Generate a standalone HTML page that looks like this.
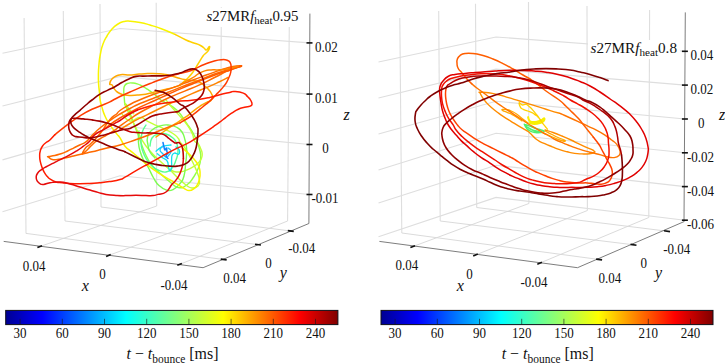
<!DOCTYPE html>
<html><head><meta charset="utf-8"><title>s27MR trajectories</title>
<style>html,body{margin:0;padding:0;background:#fff}svg{display:block}</style></head>
<body>
<svg width="725" height="363" viewBox="0 0 725 363" font-family="'Liberation Serif','DejaVu Serif',serif" fill="#111">
<defs><linearGradient id="jet" x1="0" x2="1" y1="0" y2="0"><stop offset="0" stop-color="#000092"/><stop offset="0.11" stop-color="#0000ff"/><stop offset="0.3618" stop-color="#00ffff"/><stop offset="0.508" stop-color="#80ff80"/><stop offset="0.655" stop-color="#ffff00"/><stop offset="0.885" stop-color="#ff0000"/><stop offset="1" stop-color="#800000"/></linearGradient></defs>
<rect width="725" height="363" fill="#fff"/>
<line x1="24.1" y1="18" x2="26" y2="233.4" stroke="#dedede" stroke-width="1.1" />
<line x1="63.3" y1="11" x2="65" y2="221" stroke="#dedede" stroke-width="1.1" />
<line x1="100" y1="4" x2="101" y2="207" stroke="#dedede" stroke-width="1.1" />
<line x1="156.2" y1="2.8" x2="156.7" y2="206" stroke="#dedede" stroke-width="1.1" />
<line x1="221.3" y1="7.3" x2="220.5" y2="214" stroke="#dedede" stroke-width="1.1" />
<line x1="289.4" y1="12.1" x2="287.6" y2="221" stroke="#dedede" stroke-width="1.1" />
<polyline points="2.5,53.3 120,28.5 309.5,42.9" fill="none" stroke="#dedede" stroke-width="1.1"/>
<polyline points="2.5,106 120,76.4 309.5,94.1" fill="none" stroke="#dedede" stroke-width="1.1"/>
<polyline points="2.5,159.9 120,126 309.5,144.5" fill="none" stroke="#dedede" stroke-width="1.1"/>
<polyline points="2.5,211.8 120,175.7 309.5,194.5" fill="none" stroke="#dedede" stroke-width="1.1"/>
<line x1="39.7" y1="246.6" x2="156.7" y2="206" stroke="#d6d6d6" stroke-width="0.9" />
<line x1="108.4" y1="255.5" x2="220.5" y2="214" stroke="#d6d6d6" stroke-width="0.9" />
<line x1="179.6" y1="264.4" x2="287.6" y2="221" stroke="#d6d6d6" stroke-width="0.9" />
<line x1="26" y1="233.4" x2="223.7" y2="259.5" stroke="#d6d6d6" stroke-width="0.9" />
<line x1="65" y1="221" x2="258" y2="244.6" stroke="#d6d6d6" stroke-width="0.9" />
<line x1="101" y1="207" x2="290.8" y2="231" stroke="#d6d6d6" stroke-width="0.9" />
<line x1="399.8" y1="18" x2="401.8" y2="233" stroke="#dedede" stroke-width="1.1" />
<line x1="438.7" y1="11" x2="440.2" y2="221" stroke="#dedede" stroke-width="1.1" />
<line x1="475.5" y1="3.7" x2="476.7" y2="207.5" stroke="#dedede" stroke-width="1.1" />
<line x1="528.5" y1="2.1" x2="528.9" y2="203.5" stroke="#dedede" stroke-width="1.1" />
<line x1="587" y1="6" x2="587.4" y2="210.5" stroke="#dedede" stroke-width="1.1" />
<line x1="649.6" y1="10" x2="648.8" y2="217.5" stroke="#dedede" stroke-width="1.1" />
<polyline points="378.5,62 496,37 685,51.3" fill="none" stroke="#dedede" stroke-width="1.1"/>
<polyline points="378.5,98 496,69.1 685,85.1" fill="none" stroke="#dedede" stroke-width="1.1"/>
<polyline points="378.5,134 496,101.2 685,119" fill="none" stroke="#dedede" stroke-width="1.1"/>
<polyline points="378.5,170 496,133.2 685,152.8" fill="none" stroke="#dedede" stroke-width="1.1"/>
<polyline points="378.5,203 496,165.3 685,186.6" fill="none" stroke="#dedede" stroke-width="1.1"/>
<polyline points="378.5,236.8 496,197.4 685,220.2" fill="none" stroke="#dedede" stroke-width="1.1"/>
<line x1="412.7" y1="246.6" x2="528.9" y2="203.5" stroke="#d6d6d6" stroke-width="0.9" />
<line x1="475.5" y1="255" x2="587.4" y2="210.5" stroke="#d6d6d6" stroke-width="0.9" />
<line x1="539.6" y1="263.2" x2="648.8" y2="217.5" stroke="#d6d6d6" stroke-width="0.9" />
<line x1="401.8" y1="233" x2="599.1" y2="259.5" stroke="#d6d6d6" stroke-width="0.9" />
<line x1="440.2" y1="221" x2="633.5" y2="244.8" stroke="#d6d6d6" stroke-width="0.9" />
<line x1="476.7" y1="207.5" x2="667" y2="231.2" stroke="#d6d6d6" stroke-width="0.9" />
<path d="M124.8,104.7C124.6,102.7 124.5,101.2 124.2,97.2C123.9,93.2 123.6,92.9 123.8,89.8C124.0,86.7 123.7,87.2 124.8,85.5C125.9,83.8 125.9,84.0 127.9,83.3C129.9,82.6 129.8,82.9 132.3,83.0C134.8,83.1 134.6,83.0 137.2,83.8C139.8,84.6 139.5,84.7 142.2,86.1C144.9,87.5 144.6,87.5 147.2,89.2C149.8,90.9 149.5,90.5 152.1,92.5C154.7,94.5 154.4,94.3 157.1,96.6C159.8,98.9 159.7,99.3 162.1,101.0C164.5,102.7 162.1,100.6 166.0,103.0C169.9,105.4 171.2,104.6 176.7,110.0C182.2,115.4 181.8,116.2 186.7,123.3C191.6,130.4 191.6,130.0 195.0,136.7C198.4,143.4 197.8,142.5 199.3,148.3C200.8,154.1 201.0,153.0 200.7,158.3C200.4,163.6 200.3,163.2 198.3,168.3C196.3,173.4 196.4,173.0 193.3,177.5C190.2,182.0 190.7,182.3 186.7,185.0C182.7,187.7 182.8,188.3 178.3,187.5C173.8,186.7 174.9,185.8 170.0,182.0C165.1,178.2 164.9,177.8 160.0,173.3C155.1,168.8 155.7,170.3 151.7,165.0C147.7,159.7 148.1,160.0 145.0,153.3C141.9,146.6 142.7,147.1 140.0,140.0C137.3,132.9 137.7,133.8 135.0,126.7C132.3,119.6 132.2,119.1 130.0,113.3C127.8,107.5 128.1,107.3 126.7,105.0C125.3,102.7 125.3,104.8 124.8,104.7" fill="none" stroke="#90ff48" stroke-width="1.4" stroke-linejoin="round" stroke-linecap="round"/>
<path d="M122.0,114.0C124.1,115.9 125.2,120.1 130.0,121.0C134.8,121.9 135.3,117.4 139.9,117.4C144.5,117.4 143.3,119.1 147.3,121.1C151.3,123.1 150.8,123.0 154.8,124.8C158.8,126.6 158.5,126.2 162.2,127.9C165.9,129.6 165.2,129.2 168.5,131.0C171.8,132.8 172.1,132.8 174.7,134.8C177.3,136.8 176.9,136.5 178.4,138.5C179.9,140.5 178.5,139.8 180.2,142.2C181.9,144.6 182.1,143.7 184.6,147.4C187.1,151.1 187.1,151.5 189.6,156.1C192.1,160.7 191.8,160.2 193.9,164.8C196.0,169.4 196.1,169.2 197.6,173.5C199.1,177.8 199.4,177.7 199.5,181.0C199.6,184.3 200.0,184.1 198.0,186.0C196.0,187.9 195.2,188.3 192.0,188.0C188.8,187.7 189.7,187.7 186.0,185.0C182.3,182.3 182.3,182.0 178.0,178.0C173.7,174.0 174.8,174.5 170.0,170.0C165.2,165.5 165.3,166.1 160.0,161.0C154.7,155.9 154.8,156.6 150.0,151.0C145.2,145.4 145.7,146.1 142.0,140.0C138.3,133.9 139.2,134.4 136.0,128.0C132.8,121.6 132.9,122.4 130.0,116.0C127.1,109.6 125.5,106.1 125.0,104.0C124.5,101.9 125.7,105.4 128.0,108.0C130.3,110.6 132.2,112.2 133.7,113.7" fill="none" stroke="#c4ff38" stroke-width="1.4" stroke-linejoin="round" stroke-linecap="round"/>
<path d="M166.0,100.0C167.3,101.7 168.3,103.1 170.9,106.2C173.5,109.3 173.2,108.8 175.9,111.8C178.6,114.8 178.3,114.4 180.9,117.4C183.5,120.4 183.5,120.0 185.8,123.0C188.1,126.0 187.8,125.5 189.6,128.6C191.4,131.7 191.4,131.5 192.7,134.8C194.0,138.1 193.0,138.6 194.5,141.0C196.0,143.4 196.5,141.6 198.2,143.7C199.9,145.8 199.6,146.0 200.7,148.7C201.8,151.4 202.0,151.1 202.2,153.7C202.4,156.3 202.4,156.1 201.3,158.6C200.2,161.1 200.3,160.8 198.2,163.0C196.1,165.2 196.3,164.9 193.3,166.7C190.3,168.5 190.4,168.5 187.1,169.8C183.8,171.1 184.2,171.2 180.9,171.7C177.6,172.2 177.3,172.2 174.7,171.7C172.1,171.2 172.0,170.3 171.0,169.8" fill="none" stroke="#c4ff38" stroke-width="1.4" stroke-linejoin="round" stroke-linecap="round"/>
<path d="M139.0,131.0C138.8,133.7 138.1,135.7 138.4,141.0C138.7,146.3 138.5,145.7 140.0,151.0C141.5,156.3 141.9,156.7 144.0,161.0C146.1,165.3 145.4,162.5 148.0,167.0C150.6,171.5 150.7,173.1 153.6,178.0C156.5,182.9 155.7,182.4 159.0,185.5C162.3,188.6 162.3,188.7 166.0,189.8C169.7,190.9 169.3,191.3 173.0,189.6C176.7,187.9 177.1,187.1 180.0,183.5C182.9,179.9 182.5,181.7 184.0,176.0C185.5,170.3 185.1,167.9 185.8,162.3C186.5,156.7 186.3,158.9 186.5,154.9C186.7,150.9 186.9,151.4 186.5,147.4C186.1,143.4 186.2,144.1 185.0,140.0C183.8,135.9 184.4,135.5 182.0,132.0C179.6,128.5 179.7,128.9 176.0,127.0C172.3,125.1 172.3,125.3 168.0,125.0C163.7,124.7 164.3,124.7 160.0,126.0C155.7,127.3 155.3,127.1 152.0,130.0C148.7,132.9 148.7,133.0 147.6,137.0C146.5,141.0 147.4,141.0 148.0,145.0C148.6,149.0 148.1,148.5 150.0,152.0C151.9,155.5 153.7,156.4 155.0,158.0" fill="none" stroke="#7cfc50" stroke-width="1.4" stroke-linejoin="round" stroke-linecap="round"/>
<path d="M146.0,125.0C144.9,127.1 143.3,128.2 142.0,133.0C140.7,137.8 140.7,137.9 141.0,143.0C141.3,148.1 141.4,147.5 143.0,152.0C144.6,156.5 144.6,156.3 147.0,160.0C149.4,163.7 149.1,163.3 152.0,166.0C154.9,168.7 154.3,168.4 158.0,170.0C161.7,171.6 162.3,172.5 166.0,172.0C169.7,171.5 169.3,171.2 172.0,168.0C174.7,164.8 174.4,164.3 176.0,160.0C177.6,155.7 177.7,156.3 178.0,152.0C178.3,147.7 178.3,147.7 177.0,144.0C175.7,140.3 175.9,140.7 173.0,138.0C170.1,135.3 170.0,135.1 166.0,134.0C162.0,132.9 161.7,132.9 158.0,134.0C154.3,135.1 154.1,134.8 152.0,138.0C149.9,141.2 150.5,143.9 150.0,146.0" fill="none" stroke="#58ff90" stroke-width="1.4" stroke-linejoin="round" stroke-linecap="round"/>
<path d="M156.0,151.2C157.3,150.2 158.3,148.9 161.0,147.4C163.7,145.9 163.3,146.2 166.0,145.6C168.7,145.0 169.7,145.2 171.0,145.0" fill="none" stroke="#10e0f0" stroke-width="1.3" stroke-linejoin="round" stroke-linecap="round"/>
<path d="M157.3,153.7C158.6,154.7 159.6,155.4 162.2,157.4C164.8,159.4 165.5,158.5 167.2,161.1C168.9,163.7 167.7,164.7 168.5,167.3C169.3,169.9 169.5,171.3 170.3,171.0C171.1,170.7 171.3,168.9 171.6,166.0C171.9,163.1 171.4,162.9 171.6,160.0C171.8,157.1 171.4,156.9 172.2,155.0C173.0,153.1 173.0,153.2 174.7,153.0C176.4,152.8 177.1,154.6 178.4,154.3C179.7,154.0 179.6,153.3 179.6,151.8C179.6,150.3 179.4,150.0 178.4,148.7C177.4,147.4 176.6,147.5 176.0,147.0" fill="none" stroke="#10e0f0" stroke-width="1.3" stroke-linejoin="round" stroke-linecap="round"/>
<path d="M163.0,146.0C162.2,147.1 160.0,147.9 160.0,150.0C160.0,152.1 161.4,152.1 163.0,154.0C164.6,155.9 164.4,156.7 166.0,157.0C167.6,157.3 167.7,156.6 169.0,155.0C170.3,153.4 171.3,152.9 171.0,151.0C170.7,149.1 168.8,148.8 168.0,148.0" fill="none" stroke="#20c8ff" stroke-width="1.3" stroke-linejoin="round" stroke-linecap="round"/>
<path d="M163.0,142.5C163.3,143.7 163.5,145.0 164.0,147.0C164.5,149.0 164.3,149.7 165.0,150.0C165.7,150.3 166.0,147.5 166.5,148.0C167.0,148.5 166.6,150.7 167.0,152.0C167.4,153.3 168.3,151.9 168.0,153.0C167.7,154.1 166.0,154.5 166.0,156.0C166.0,157.5 167.5,157.8 168.0,158.5" fill="none" stroke="#1080ff" stroke-width="1.5" stroke-linejoin="round" stroke-linecap="round"/>
<path d="M175.0,34.4C171.5,33.0 168.7,31.5 162.0,29.0C155.3,26.5 155.9,26.8 150.0,25.0C144.1,23.2 145.3,23.4 140.0,22.4C134.7,21.4 134.3,21.4 130.0,21.2C125.7,21.0 127.2,20.9 124.0,21.6C120.8,22.3 121.2,22.0 118.0,24.0C114.8,26.0 114.9,25.8 112.0,29.0C109.1,32.2 109.4,32.0 107.0,36.0C104.6,40.0 104.8,39.2 103.0,44.0C101.2,48.8 101.5,48.7 100.4,54.0C99.3,59.3 99.5,58.7 99.0,64.0C98.5,69.3 98.5,68.7 98.4,74.0C98.3,79.3 98.3,79.2 98.6,84.0C98.9,88.8 99.0,87.7 99.4,92.0C99.8,96.3 99.4,95.9 100.1,100.0C100.8,104.1 100.8,103.4 102.0,107.4C103.2,111.4 102.8,110.9 104.5,114.9C106.2,118.9 106.0,118.6 108.2,122.3C110.4,126.0 110.3,125.5 112.6,128.6C114.9,131.7 114.9,131.6 116.9,134.1C118.9,136.6 117.8,134.7 120.0,137.9C122.2,141.1 121.7,142.3 125.0,146.2C128.3,150.1 128.4,149.1 132.4,152.4C136.4,155.7 135.9,155.3 139.9,158.6C143.9,161.9 143.3,161.7 147.3,164.8C151.3,167.9 150.8,167.6 154.8,170.4C158.8,173.2 158.2,172.9 162.2,175.4C166.2,177.9 165.7,177.4 169.7,179.7C173.7,182.0 173.3,181.9 177.1,184.2C180.9,186.5 180.8,186.6 184.0,188.3C187.2,190.0 186.3,190.5 189.0,190.6C191.7,190.7 191.6,190.5 194.0,188.6C196.4,186.7 196.4,186.9 198.0,183.5C199.6,180.1 199.6,179.9 200.0,176.0C200.4,172.1 200.4,172.5 199.6,169.0C198.8,165.5 198.8,165.9 197.0,163.0C195.2,160.1 195.4,160.7 193.0,158.0C190.6,155.3 190.8,155.7 188.0,153.0C185.2,150.3 183.9,149.3 182.4,148.0" fill="none" stroke="#f8f400" stroke-width="1.5" stroke-linejoin="round" stroke-linecap="round"/>
<path d="M175.0,34.4C177.9,35.9 181.2,37.8 186.0,40.0C190.8,42.2 189.3,41.3 193.0,42.7C196.7,44.1 197.1,43.8 200.0,45.2C202.9,46.6 202.4,46.7 204.0,48.0C205.6,49.3 205.0,49.9 206.0,50.0C207.0,50.1 206.9,49.5 207.8,48.5C208.7,47.5 209.0,46.4 209.4,46.4C209.8,46.4 209.7,47.3 209.3,48.5C208.9,49.7 209.0,49.7 208.0,51.0C207.0,52.3 206.8,52.2 205.5,53.5C204.2,54.8 205.0,53.2 203.0,56.0C201.0,58.8 200.7,59.7 198.0,64.0C195.3,68.3 195.7,68.3 193.0,72.0C190.3,75.7 190.5,75.4 188.0,78.0C185.5,80.6 185.6,79.9 183.7,81.7C181.8,83.5 183.2,83.4 180.7,84.8C178.2,86.2 176.2,86.5 174.5,87.1" fill="none" stroke="#ffd000" stroke-width="1.5" stroke-linejoin="round" stroke-linecap="round"/>
<path d="M174.5,87.1C172.8,87.6 171.6,88.0 168.3,88.8C165.0,89.6 165.4,89.4 162.1,90.2C158.8,91.0 159.2,90.9 155.9,91.7C152.6,92.5 153.0,92.6 149.7,93.3C146.4,94.0 146.8,94.0 143.5,94.5C140.2,95.0 140.5,94.9 137.2,95.1C133.9,95.3 134.3,95.4 131.0,95.4C127.7,95.4 127.8,95.5 124.8,95.0C121.8,94.5 122.2,94.6 119.9,93.5C117.6,92.4 117.8,92.5 116.1,91.0C114.4,89.5 114.8,89.6 113.7,87.9C112.6,86.2 112.9,85.9 111.8,84.8C110.7,83.7 109.5,85.3 109.7,83.6C109.9,81.9 110.3,80.8 112.4,78.6C114.5,76.4 114.8,76.6 117.4,75.5C120.0,74.4 119.0,74.7 122.3,74.6C125.6,74.5 125.8,75.2 129.8,75.1C133.8,75.0 133.2,74.7 137.2,74.3C141.2,73.9 140.7,73.9 144.7,73.7C148.7,73.5 148.1,73.4 152.1,73.4C156.1,73.4 155.9,73.4 159.6,73.7C163.3,74.0 162.5,74.0 165.8,74.6C169.1,75.2 168.7,75.2 172.0,76.1C175.3,77.0 174.9,77.1 178.2,78.0C181.5,78.9 181.0,78.9 184.4,79.6C187.8,80.3 187.2,80.0 191.0,80.6C194.8,81.2 194.9,80.3 198.6,81.7C202.3,83.1 202.0,83.8 204.8,86.0C207.6,88.2 207.2,87.9 209.0,90.0C210.8,92.1 210.7,92.2 211.6,94.0C212.5,95.8 212.5,95.1 212.3,96.8C212.1,98.5 212.5,99.0 211.0,100.5C209.5,102.0 209.3,101.1 206.7,102.4C204.1,103.7 204.2,103.5 201.1,105.5C198.0,107.5 198.2,107.3 194.9,109.8C191.6,112.3 192.0,112.3 188.7,114.8C185.4,117.3 186.2,116.6 182.5,119.1C178.8,121.6 179.4,121.1 175.0,124.0C170.6,126.9 171.1,126.5 166.0,130.0C160.9,133.5 158.7,135.1 156.0,137.0" fill="none" stroke="#ffa800" stroke-width="1.5" stroke-linejoin="round" stroke-linecap="round"/>
<path d="M241.5,65.7C239.2,65.9 237.6,65.8 233.0,66.6C228.4,67.4 229.3,67.3 224.4,68.8C219.5,70.3 220.5,70.0 214.5,72.1C208.5,74.2 208.6,74.2 202.0,76.6C195.4,79.0 196.3,78.7 189.7,81.2C183.1,83.7 183.8,83.6 177.2,86.1C170.6,88.6 171.4,88.2 164.8,90.5C158.2,92.8 159.0,92.3 152.4,94.8C145.8,97.3 146.0,97.2 140.0,99.8C134.0,102.4 135.3,101.6 130.0,104.5C124.7,107.4 123.5,108.0 120.0,110.5C116.5,113.0 119.0,111.9 116.9,113.7C114.8,115.5 114.6,114.8 112.0,117.4C109.4,120.0 109.7,120.0 107.0,123.6C104.3,127.2 105.0,127.0 102.0,131.0C99.0,135.0 99.1,134.8 95.8,138.5C92.5,142.2 92.2,142.3 89.6,144.7C87.0,147.1 87.7,145.3 85.9,147.4C84.1,149.5 83.5,150.8 82.8,152.4C82.1,154.0 81.9,154.4 83.4,153.4C84.9,152.4 85.7,151.3 88.3,148.7C90.9,146.1 90.7,146.0 93.3,143.7C95.9,141.4 94.3,142.4 98.0,140.0C101.7,137.6 102.6,137.4 107.0,134.8C111.4,132.2 110.9,132.7 114.4,130.4C117.9,128.1 115.8,129.0 120.0,126.0C124.2,123.0 124.7,122.6 130.0,119.0C135.3,115.4 133.4,116.3 140.0,112.5C146.6,108.7 147.0,108.7 154.9,104.6C162.8,100.5 161.9,100.9 169.8,97.3C177.7,93.7 176.8,94.4 184.7,91.1C192.6,87.8 191.7,88.5 199.6,84.9C207.5,81.3 206.7,81.4 214.5,77.5C222.3,73.7 221.8,73.4 229.0,70.4C236.2,67.4 238.2,67.3 241.5,66.2" fill="none" stroke="#ff6a00" stroke-width="1.5" stroke-linejoin="round" stroke-linecap="round"/>
<path d="M241.5,65.7C238.4,66.7 233.9,68.2 230.0,69.4C226.1,70.5 231.0,68.8 226.9,70.0C222.8,71.3 221.1,71.6 214.5,74.0C207.9,76.5 208.6,76.6 202.0,79.1C195.4,81.7 196.3,81.2 189.7,83.7C183.1,86.2 183.8,86.0 177.2,88.6C170.6,91.2 171.4,90.9 164.8,93.6C158.2,96.3 159.0,96.2 152.4,98.8C145.8,101.4 146.0,100.9 140.0,103.5C134.0,106.1 135.3,105.7 130.0,108.5C124.7,111.3 125.3,110.8 120.0,114.0C114.7,117.2 115.3,116.8 110.0,120.5C104.7,124.2 104.8,124.0 100.0,128.0C95.2,132.0 95.8,131.8 92.0,135.5C88.2,139.2 89.2,139.4 85.9,141.9C82.6,144.4 83.0,143.3 79.7,145.0C76.4,146.7 76.8,146.4 73.5,148.1C70.2,149.8 70.5,149.7 67.2,151.2C63.9,152.7 64.3,152.6 61.0,153.7C57.7,154.8 58.1,154.8 54.8,155.5C51.5,156.2 50.3,156.1 48.6,156.5C46.9,156.9 47.6,156.3 48.6,157.1C49.6,157.9 49.6,159.0 52.3,159.6C55.0,160.2 54.9,159.7 58.6,159.2C62.3,158.7 62.0,158.6 66.0,157.8C70.0,157.0 69.2,157.1 73.5,156.1C77.8,155.1 77.2,155.0 82.1,153.9C87.0,152.8 86.7,153.0 92.0,151.8C97.3,150.6 97.0,150.5 102.0,149.3C107.0,148.1 105.9,148.3 110.7,147.2C115.5,146.1 113.5,146.9 120.0,145.0C126.5,143.1 127.0,142.8 135.0,140.0C143.0,137.2 142.0,137.6 150.0,134.5C158.0,131.4 157.0,131.6 165.0,128.5C173.0,125.4 176.0,124.4 180.0,122.9" fill="none" stroke="#ff6a00" stroke-width="1.5" stroke-linejoin="round" stroke-linecap="round"/>
<path d="M241.5,66.0C238.4,67.1 235.2,68.4 230.0,70.2C224.8,71.9 227.7,70.6 221.9,72.5C216.1,74.5 215.6,74.7 208.3,77.5C201.0,80.3 201.9,80.0 194.6,83.0C187.3,86.0 188.3,85.5 181.0,88.6C173.7,91.7 174.6,91.5 167.3,94.8C160.0,98.1 161.0,97.7 153.7,101.0C146.4,104.3 146.3,104.1 140.0,107.2C133.7,110.3 135.3,109.6 130.0,112.5C124.7,115.4 125.3,114.8 120.0,118.0C114.7,121.2 114.1,121.6 110.0,124.5C105.9,127.4 106.0,127.8 104.5,129.0" fill="none" stroke="#ff5a00" stroke-width="1.5" stroke-linejoin="round" stroke-linecap="round"/>
<path d="M120.0,129.5C122.7,127.9 124.7,126.5 130.0,123.5C135.3,120.5 135.4,120.5 140.0,118.2C144.6,115.9 141.5,117.6 147.4,114.7C153.3,111.8 154.4,111.0 162.3,107.2C170.2,103.4 169.3,104.0 177.2,100.4C185.1,96.8 184.2,97.1 192.1,93.6C200.0,90.1 199.7,90.5 207.0,87.4C214.3,84.3 213.9,84.4 219.5,81.8C225.1,79.2 225.7,78.6 228.0,77.5" fill="none" stroke="#ff8400" stroke-width="1.5" stroke-linejoin="round" stroke-linecap="round"/>
<path d="M180.0,84.5C183.3,82.7 187.4,80.8 192.4,77.9C197.4,75.0 195.3,75.5 198.6,73.6C201.9,71.7 201.5,71.9 204.8,70.9C208.1,69.9 207.7,70.2 211.0,69.9C214.3,69.6 213.9,70.0 217.2,69.9C220.5,69.8 220.2,70.0 223.5,69.6C226.8,69.2 225.8,69.3 229.7,68.4C233.6,67.5 235.8,66.9 238.0,66.3" fill="none" stroke="#ff8400" stroke-width="1.5" stroke-linejoin="round" stroke-linecap="round"/>
<path d="M180.0,122.9C182.0,121.7 183.7,120.8 187.4,118.5C191.1,116.2 190.4,116.7 193.7,114.2C197.0,111.7 196.6,111.9 199.9,109.2C203.2,106.5 203.1,106.7 206.1,104.2C209.1,101.7 208.4,102.4 211.0,99.9C213.6,97.4 213.7,97.1 216.0,94.7C218.3,92.3 217.7,93.2 219.7,91.0C221.7,88.8 221.7,88.9 223.5,86.6C225.3,84.3 225.1,84.8 226.6,82.3C228.1,79.8 227.9,80.0 229.0,77.3C230.1,74.6 230.1,74.9 230.7,72.3C231.3,69.7 231.2,69.9 231.1,67.4C231.0,64.9 231.3,64.8 230.3,62.9C229.3,61.0 229.7,61.1 227.2,60.2C224.7,59.3 224.7,59.4 221.0,59.7C217.3,60.0 217.8,60.0 213.5,61.2C209.2,62.4 209.8,62.3 204.8,64.3C199.8,66.3 198.9,67.0 194.9,68.8C190.9,70.6 194.4,69.5 189.7,71.0C185.0,72.5 183.8,72.4 177.2,74.3C170.6,76.2 171.4,75.8 164.8,78.0C158.2,80.2 159.0,80.0 152.4,82.6C145.8,85.2 146.0,85.1 140.0,87.6C134.0,90.1 135.3,89.6 130.0,92.0C124.7,94.4 124.7,94.2 120.0,96.5C115.3,98.8 116.5,98.4 112.4,100.5C108.3,102.6 109.9,102.0 104.5,104.3C99.1,106.6 98.6,106.2 92.0,109.3C85.4,112.4 86.3,112.0 79.7,116.1C73.1,120.2 73.8,119.8 67.2,124.8C60.6,129.8 58.1,132.1 54.8,134.8" fill="none" stroke="#ff3c00" stroke-width="1.5" stroke-linejoin="round" stroke-linecap="round"/>
<path d="M54.8,134.8C53.5,136.2 52.2,137.9 49.9,140.0C47.6,142.1 48.1,140.8 46.1,142.5C44.1,144.2 44.0,143.9 42.4,146.2C40.8,148.5 40.9,148.6 40.2,151.2C39.5,153.8 39.7,153.5 39.7,156.1C39.7,158.7 39.6,158.3 40.2,161.1C40.8,163.9 40.7,163.7 41.8,166.7C42.9,169.7 42.8,169.7 44.3,172.3C45.8,174.9 45.6,174.6 47.4,176.6C49.2,178.6 48.8,178.3 51.1,179.7C53.4,181.1 53.1,181.2 56.1,182.0C59.1,182.8 58.7,182.4 62.3,182.8C65.9,183.2 65.1,183.3 69.7,183.5C74.3,183.7 74.4,183.7 79.7,183.7C85.0,183.7 84.3,183.7 89.6,183.5C94.9,183.3 94.2,183.3 99.5,182.8C104.8,182.3 104.0,182.5 109.5,181.6C115.0,180.7 115.9,180.7 120.0,179.5C124.1,178.3 120.4,179.8 125.0,177.2C129.6,174.6 130.8,173.6 137.4,169.8C144.0,166.0 143.2,166.7 149.8,163.0C156.4,159.3 155.6,159.8 162.2,156.1C168.8,152.4 168.1,152.6 174.7,149.3C181.3,146.0 180.8,147.0 187.0,143.7C193.2,140.4 192.1,140.7 198.0,137.0C203.9,133.3 205.1,132.5 209.2,129.7C213.3,126.9 210.7,128.6 213.5,126.6C216.3,124.6 216.4,124.7 219.7,122.2C223.0,119.7 222.6,119.8 225.9,117.3C229.2,114.8 228.8,115.1 232.1,112.9C235.4,110.7 235.0,110.7 238.3,109.2C241.6,107.7 241.5,108.1 244.6,107.3C247.7,106.5 248.1,106.9 250.1,106.1C252.1,105.3 251.8,105.7 252.0,104.2C252.2,102.7 251.9,102.5 250.8,100.5C249.7,98.5 249.7,98.8 247.7,96.8C245.7,94.8 246.8,94.5 243.3,93.1C239.8,91.7 238.2,91.7 234.6,91.5C231.0,91.3 233.7,91.5 229.7,92.4C225.7,93.3 225.0,93.4 219.7,94.7C214.4,96.0 215.1,96.2 209.8,97.4C204.5,98.6 205.2,98.5 199.9,99.3C194.6,100.1 195.2,100.0 189.9,100.5C184.6,101.0 186.6,100.4 180.0,101.1C173.4,101.8 173.0,101.7 165.0,103.0C157.0,104.3 157.4,104.1 150.0,106.0C142.6,107.9 140.8,108.9 137.4,110.0" fill="none" stroke="#ff1c00" stroke-width="1.5" stroke-linejoin="round" stroke-linecap="round"/>
<path d="M137.4,110.0C134.9,111.3 132.6,112.2 128.0,115.0C123.4,117.8 123.6,118.2 120.0,120.5C116.4,122.8 118.5,121.3 114.4,123.6C110.3,125.9 109.8,126.2 104.5,129.2C99.2,132.2 98.6,131.6 94.6,134.8C90.6,138.0 92.6,138.2 89.6,141.2C86.6,144.2 86.7,143.7 83.4,146.2C80.1,148.7 80.9,148.3 77.2,150.6C73.5,152.9 73.7,152.8 69.7,154.9C65.7,157.0 66.3,156.6 62.3,158.6C58.3,160.6 58.8,160.3 54.8,162.3C50.8,164.3 51.0,164.1 47.4,166.1C43.8,168.1 43.9,167.8 41.2,169.8C38.5,171.8 38.7,171.5 37.4,173.5C36.1,175.5 36.3,175.2 36.2,177.2C36.1,179.2 36.2,179.3 37.2,181.0C38.2,182.7 38.2,182.8 39.9,183.7C41.6,184.6 41.0,184.6 43.7,184.4C46.4,184.2 45.7,183.4 50.0,182.8C54.3,182.2 54.7,181.7 60.0,182.0C65.3,182.3 64.7,182.7 70.0,184.0C75.3,185.3 74.7,185.4 80.0,187.0C85.3,188.6 85.2,188.6 90.0,190.0C94.8,191.4 93.7,191.2 98.0,192.4C102.3,193.6 101.2,193.6 106.0,194.4C110.8,195.2 110.7,195.1 116.0,195.4C121.3,195.7 120.7,195.7 126.0,195.6C131.3,195.5 130.7,195.2 136.0,195.2C141.3,195.2 141.5,195.5 146.0,195.6C150.5,195.7 149.8,195.9 153.0,195.6C156.2,195.3 154.5,195.4 158.0,194.4C161.5,193.4 162.4,194.6 166.0,192.0C169.6,189.4 169.3,187.5 171.6,184.7C173.9,181.9 172.9,183.8 174.7,181.6C176.5,179.4 176.7,179.4 178.4,176.6C180.1,173.8 179.8,174.1 180.9,171.0C182.0,167.9 182.0,168.1 182.7,164.8C183.4,161.5 183.2,160.3 183.4,158.6" fill="none" stroke="#e60a0a" stroke-width="1.5" stroke-linejoin="round" stroke-linecap="round"/>
<path d="M183.4,158.6C183.3,156.9 183.4,155.5 183.1,152.4C182.8,149.3 182.9,149.1 182.1,146.8C181.3,144.5 181.2,144.8 180.2,143.7C179.2,142.6 179.5,142.7 178.4,142.5C177.3,142.3 177.2,143.3 175.9,143.1C174.6,142.9 175.2,143.1 173.4,141.9C171.6,140.7 171.0,140.1 169.0,138.5C167.0,136.9 167.8,137.2 166.0,136.0C164.2,134.8 164.5,134.8 162.2,134.1C159.9,133.4 160.3,133.6 157.3,133.3C154.3,133.0 154.7,133.0 151.0,132.9C147.3,132.8 147.6,133.0 143.6,132.9C139.6,132.8 139.6,132.8 136.0,132.5C132.4,132.2 132.9,132.4 130.0,131.7C127.1,131.0 126.3,130.3 125.0,129.8" fill="none" stroke="#c00000" stroke-width="1.55" stroke-linejoin="round" stroke-linecap="round"/>
<path d="M125.0,129.8C123.7,129.3 122.8,129.0 120.0,127.9C117.2,126.8 117.9,126.8 114.4,125.5C110.9,124.2 111.0,124.2 107.0,123.0C103.0,121.8 103.5,121.9 99.5,121.1C95.5,120.3 95.6,120.4 92.0,119.9C88.4,119.4 89.2,119.5 85.9,119.2C82.6,118.9 82.9,118.8 79.7,118.6C76.5,118.4 76.3,118.2 74.0,118.3C71.7,118.4 72.3,117.7 71.0,118.8C69.7,119.9 69.7,120.2 69.1,122.3C68.5,124.4 68.5,124.4 68.7,126.7C68.9,129.0 68.8,128.8 69.7,131.0C70.6,133.2 70.5,133.3 72.2,134.8C73.9,136.3 73.3,136.0 75.9,136.6C78.5,137.2 78.8,136.9 82.1,137.2C85.4,137.5 85.0,137.9 88.3,137.9C91.6,137.9 90.9,137.8 94.6,137.2C98.3,136.6 97.9,136.5 102.0,135.5C106.1,134.5 105.7,134.5 110.0,133.3C114.3,132.1 114.0,132.1 118.0,131.0C122.0,129.9 122.1,129.8 125.0,129.2C127.9,128.6 126.7,129.3 128.7,128.8C130.7,128.3 130.1,128.4 132.4,127.3C134.7,126.2 134.7,126.3 137.4,124.8C140.1,123.3 139.8,123.4 142.4,121.7C145.0,120.0 144.7,120.1 147.3,118.6C149.9,117.1 149.6,117.2 152.3,116.1C155.0,115.0 154.7,115.2 157.3,114.6C159.9,114.0 159.2,114.2 162.2,113.7C165.2,113.2 165.2,113.2 168.5,112.7C171.8,112.2 172.1,112.3 174.7,112.0C177.3,111.7 176.3,112.3 178.4,111.4C180.5,110.5 179.8,110.2 182.5,108.6C185.2,107.0 185.4,107.3 188.7,105.5C192.0,103.7 191.9,104.0 194.9,101.8C197.9,99.6 197.7,99.7 199.9,97.4C202.1,95.1 201.9,95.4 203.0,93.1C204.1,90.8 203.9,89.9 204.2,88.7" fill="none" stroke="#a40000" stroke-width="1.6" stroke-linejoin="round" stroke-linecap="round"/>
<path d="M204.2,88.7C204.2,88.0 204.4,88.2 204.2,86.0C204.0,83.8 204.1,83.4 203.3,80.4C202.5,77.4 202.7,77.4 201.1,74.8C199.5,72.2 199.7,72.1 197.4,70.5C195.1,68.9 195.4,68.9 192.4,68.9C189.4,68.9 189.0,69.6 186.2,70.5C183.4,71.4 185.0,71.4 181.9,72.4C178.8,73.4 178.5,73.5 174.5,74.3C170.5,75.1 171.0,75.1 167.0,75.5C163.0,75.9 163.6,75.8 159.6,75.9C155.6,76.0 156.4,75.8 152.1,75.9C147.8,76.0 147.8,76.0 143.5,76.1C139.2,76.2 139.7,75.7 136.0,76.4C132.3,77.1 133.5,77.0 129.8,78.6C126.1,80.2 126.3,80.1 122.3,82.3C118.3,84.5 118.9,84.5 114.9,86.7C110.9,88.9 111.4,88.4 107.4,90.4C103.4,92.4 104.1,91.5 100.0,94.1C95.9,96.7 95.8,97.1 92.0,100.0C88.2,102.9 89.2,102.2 85.9,105.0C82.6,107.8 82.7,108.0 79.7,110.6C76.7,113.2 76.9,112.8 74.7,114.9C72.5,117.0 72.5,116.5 71.5,118.3C70.5,120.1 70.8,119.8 70.8,121.5C70.8,123.2 70.6,122.9 71.6,124.8C72.6,126.7 72.5,126.6 74.7,128.6C76.9,130.6 77.1,130.5 79.7,132.3C82.3,134.1 82.0,133.9 84.6,135.4C87.2,136.9 86.9,136.7 89.6,137.9C92.3,139.1 91.3,138.6 94.6,140.0C97.9,141.4 98.0,141.4 102.0,143.1C106.0,144.8 105.5,144.7 109.5,146.2C113.5,147.7 112.8,147.4 116.9,148.9C121.0,150.4 122.8,151.0 125.0,151.8" fill="none" stroke="#900000" stroke-width="1.6" stroke-linejoin="round" stroke-linecap="round"/>
<path d="M125.0,151.8C127.0,152.8 128.4,153.5 132.4,155.5C136.4,157.5 135.9,157.4 139.9,159.2C143.9,161.0 143.3,161.0 147.3,162.3C151.3,163.6 150.8,163.3 154.8,164.2C158.8,165.1 158.2,165.0 162.2,165.5C166.2,166.0 165.7,165.9 169.7,166.1C173.7,166.3 173.1,166.6 177.1,166.1C181.1,165.6 181.3,165.7 184.6,164.2C187.9,162.7 187.3,163.0 189.6,160.5C191.9,158.0 191.6,158.0 193.3,154.9C195.0,151.8 194.8,152.0 195.8,148.7C196.8,145.4 196.5,145.6 197.0,142.5C197.5,139.4 197.3,140.4 197.6,137.0C197.9,133.6 198.1,132.3 198.0,129.7C197.9,127.1 198.1,129.2 197.4,127.2C196.7,125.2 196.8,125.0 195.5,122.2C194.2,119.4 194.4,119.7 192.4,116.7C190.4,113.7 190.4,113.9 188.1,111.1C185.8,108.3 185.7,107.8 183.7,106.1C181.7,104.4 182.8,106.2 180.7,104.7C178.6,103.2 178.3,102.5 175.7,100.3C173.1,98.1 173.4,98.4 170.8,96.6C168.2,94.8 168.5,94.8 165.8,93.5C163.1,92.2 163.6,92.5 160.8,91.7C158.0,90.9 156.7,90.7 155.2,90.4" fill="none" stroke="#850000" stroke-width="1.6" stroke-linejoin="round" stroke-linecap="round"/>
<path d="M524.3,124.2C524.9,125.2 525.0,126.3 526.5,128.1C528.0,129.9 527.5,129.7 529.8,130.9C532.1,132.1 532.4,132.1 535.3,132.5C538.2,132.9 538.4,132.8 540.8,132.5C543.2,132.2 544.1,132.1 544.2,131.4C544.3,130.7 543.2,130.8 541.0,130.0C538.8,129.2 538.7,129.4 536.0,128.5C533.3,127.6 533.7,127.5 530.9,126.5C528.1,125.5 526.2,124.5 525.4,124.8C524.6,125.1 526.0,126.1 528.0,127.5C530.0,128.9 530.1,129.2 533.0,130.2C535.9,131.2 537.4,131.1 539.0,131.4" fill="none" stroke="#50f070" stroke-width="1.5" stroke-linejoin="round" stroke-linecap="round"/>
<path d="M528.1,117.1C528.4,118.0 528.3,119.1 529.3,120.4C530.3,121.7 529.8,121.7 532.0,122.0C534.2,122.3 534.8,122.1 537.5,121.5C540.2,120.9 540.2,120.7 542.0,119.8C543.8,118.9 543.8,117.9 544.2,118.2C544.6,118.5 544.8,119.7 543.6,121.0C542.4,122.3 542.2,122.3 539.7,123.1C537.2,123.9 536.8,123.9 534.2,123.9C531.6,123.9 530.1,123.4 529.8,123.1C529.5,122.8 530.8,123.0 533.0,122.8C535.2,122.6 535.5,122.9 538.0,122.3C540.5,121.7 541.3,121.1 542.5,120.6" fill="none" stroke="#f8f000" stroke-width="2.0" stroke-linejoin="round" stroke-linecap="round"/>
<path d="M547.5,129.2C546.9,128.5 546.6,128.1 545.3,126.5C544.0,124.9 543.8,124.9 542.5,123.1C541.2,121.3 541.5,121.6 540.3,119.8C539.1,118.0 539.3,118.3 538.0,116.5C536.7,114.7 536.7,115.0 535.3,113.2C533.9,111.4 534.2,111.7 532.6,109.9C531.0,108.1 531.0,108.1 529.2,106.6C527.4,105.1 527.9,104.9 526.0,104.4C524.1,103.9 523.8,105.4 522.0,104.9C520.2,104.4 519.7,102.1 519.3,102.7C518.9,103.3 519.4,105.3 520.4,107.1C521.4,108.9 521.3,108.3 523.2,109.3C525.1,110.3 525.3,110.1 527.6,111.0C529.9,111.9 529.9,111.7 532.0,112.7C534.1,113.7 533.7,113.8 535.3,114.9C536.9,116.0 536.5,115.5 538.0,117.0C539.5,118.5 540.2,119.6 541.0,120.5" fill="none" stroke="#ffd000" stroke-width="1.3" stroke-linejoin="round" stroke-linecap="round"/>
<path d="M528.0,123.0C526.4,121.8 525.0,120.8 522.1,118.5C519.2,116.2 519.8,116.4 517.2,114.5C514.6,112.6 514.9,112.8 512.2,111.5C509.5,110.2 509.8,110.1 507.2,109.6C504.6,109.1 503.6,109.2 502.5,109.5C501.4,109.8 501.6,109.8 502.9,110.6C504.2,111.4 504.7,111.3 507.2,112.4C509.7,113.5 509.6,113.2 512.2,114.6C514.8,116.0 514.4,115.8 517.0,117.5C519.6,119.2 520.7,120.1 522.0,121.0" fill="none" stroke="#ffa800" stroke-width="1.3" stroke-linejoin="round" stroke-linecap="round"/>
<path d="M545.0,131.0C546.9,131.9 548.5,132.8 552.0,134.5C555.5,136.2 554.6,136.0 558.0,137.5C561.4,139.0 563.5,139.4 564.8,140.3C566.1,141.2 565.3,141.5 563.0,141.0C560.7,140.5 559.7,140.0 556.0,138.5C552.3,137.0 552.5,137.0 549.0,135.5C545.5,134.0 544.6,133.7 543.0,133.0" fill="none" stroke="#ffa800" stroke-width="1.3" stroke-linejoin="round" stroke-linecap="round"/>
<path d="M560.0,113.4C557.2,112.6 555.0,112.0 549.5,110.3C544.0,108.6 544.8,108.9 539.5,107.2C534.2,105.5 534.9,105.8 529.6,104.1C524.3,102.4 525.3,102.7 519.7,101.0C514.1,99.3 514.1,99.4 508.5,97.7C502.9,96.0 503.9,96.1 498.6,94.8C493.3,93.5 493.5,93.4 488.6,92.7C483.7,92.0 482.4,92.2 480.2,92.3C478.0,92.4 479.6,91.9 480.2,93.2C480.8,94.5 480.8,94.9 482.4,97.3C484.0,99.7 483.8,99.7 486.1,102.3C488.4,104.9 488.1,104.6 491.1,107.2C494.1,109.8 494.0,109.7 497.3,112.2C500.6,114.7 499.8,114.2 503.5,116.6C507.2,119.0 507.0,118.8 511.0,121.3C515.0,123.8 514.4,123.5 518.4,125.9C522.4,128.3 522.9,128.4 525.9,130.2C528.9,132.0 526.5,130.1 529.6,132.7C532.7,135.3 533.3,137.1 537.4,140.0C541.5,142.9 540.8,141.9 544.8,143.7C548.8,145.5 548.3,145.2 552.3,146.8C556.3,148.4 555.7,148.4 559.7,149.7C563.7,151.0 563.2,150.8 567.2,151.8C571.2,152.8 570.7,152.8 574.6,153.4C578.5,154.0 578.0,153.8 582.0,153.9C586.0,154.0 586.2,154.1 589.5,153.7C592.8,153.3 592.9,153.1 594.2,152.4C595.5,151.7 594.8,151.9 594.2,151.2C593.6,150.5 594.2,150.8 592.0,149.7C589.8,148.6 589.4,148.8 585.8,147.2C582.2,145.6 582.3,145.6 578.4,143.7C574.5,141.8 575.4,142.1 571.0,140.0C566.6,137.9 566.8,138.0 562.0,136.0C557.2,134.0 557.5,134.1 553.0,132.5C548.5,130.9 547.1,130.7 545.0,130.0" fill="none" stroke="#ff8c00" stroke-width="1.4" stroke-linejoin="round" stroke-linecap="round"/>
<path d="M472.0,84.0C473.3,85.1 473.7,85.6 476.8,88.0C479.9,90.4 479.9,90.2 483.7,93.0C487.5,95.8 487.1,95.6 491.1,98.6C495.1,101.6 494.6,101.3 498.6,104.1C502.6,106.9 502.0,106.4 506.0,109.1C510.0,111.8 509.5,111.5 513.5,114.1C517.5,116.7 517.0,116.4 520.9,119.0C524.8,121.6 524.3,121.5 528.3,124.0C532.3,126.5 532.1,126.1 535.8,128.3C539.5,130.5 538.5,130.0 542.0,132.1C545.5,134.2 545.3,133.9 549.0,136.0C552.7,138.1 552.1,138.1 556.0,140.0C559.9,141.9 559.5,141.4 563.5,143.1C567.5,144.8 566.9,144.7 570.9,146.2C574.9,147.7 574.4,147.6 578.4,148.9C582.4,150.2 581.9,150.1 585.8,151.2C589.7,152.3 589.2,152.0 593.2,153.0C597.2,154.0 597.0,153.9 600.7,154.9C604.4,155.9 603.4,156.1 606.9,156.8C610.4,157.5 610.8,157.9 614.0,157.6C617.2,157.3 617.4,157.3 619.0,155.5C620.6,153.7 620.5,153.9 620.0,151.0C619.5,148.1 619.1,147.6 617.0,144.7C614.9,141.8 615.3,142.9 612.0,140.3C608.7,137.7 608.9,137.6 604.6,134.8C600.3,132.0 600.4,132.1 595.9,129.8C591.4,127.5 592.8,128.4 587.8,126.1C582.8,123.8 583.3,123.9 577.2,121.1C571.1,118.3 569.4,117.6 564.8,115.5C560.2,113.4 561.3,114.0 560.0,113.4" fill="none" stroke="#ff7400" stroke-width="1.4" stroke-linejoin="round" stroke-linecap="round"/>
<path d="M593.4,137.2C592.1,135.5 591.0,134.3 588.4,131.0C585.8,127.7 586.1,128.1 583.5,124.8C580.9,121.5 581.5,121.9 578.5,118.6C575.5,115.3 575.6,115.7 572.3,112.4C569.0,109.1 569.5,109.5 566.0,106.2C562.5,102.9 564.5,104.1 559.2,100.0C553.9,95.9 553.0,96.1 546.0,91.0C539.0,85.9 539.1,85.3 533.0,81.0C526.9,76.7 528.3,78.2 523.0,75.0C517.7,71.8 518.3,72.0 513.0,69.0C507.7,66.0 508.3,66.3 503.0,63.6C497.7,60.9 498.3,61.1 493.0,59.0C487.7,56.9 488.3,57.0 483.0,55.6C477.7,54.2 477.8,54.1 473.0,53.6C468.2,53.1 468.5,53.1 465.0,53.6C461.5,54.1 462.0,54.2 460.0,55.6C458.0,57.0 458.2,57.0 457.4,59.0C456.6,61.0 456.8,60.6 457.0,63.0C457.2,65.4 456.7,65.3 458.0,68.0C459.3,70.7 459.6,70.1 462.0,73.0C464.4,75.9 464.3,76.1 467.0,79.0C469.7,81.9 470.7,82.7 472.0,84.0" fill="none" stroke="#ff5e00" stroke-width="1.5" stroke-linejoin="round" stroke-linecap="round"/>
<path d="M593.4,137.2C594.9,139.1 596.7,141.1 599.0,144.5C601.3,147.9 600.5,147.2 602.0,150.0C603.5,152.8 603.3,152.3 604.7,155.0C606.1,157.7 605.7,157.2 607.2,160.0C608.7,162.8 609.0,162.6 610.3,165.6C611.6,168.6 611.8,168.3 612.2,171.1C612.6,173.9 612.6,173.6 611.9,176.1C611.2,178.6 611.3,178.6 609.7,180.4C608.1,182.2 608.3,181.9 606.0,182.9C603.7,183.9 604.0,184.0 601.0,184.2C598.0,184.4 598.5,184.1 594.8,183.8C591.1,183.5 591.2,183.1 587.3,182.9C583.4,182.7 583.4,183.1 580.0,183.0C576.6,182.9 577.9,183.0 574.4,182.7C570.9,182.4 571.0,182.6 567.0,182.0C563.0,181.4 563.5,181.5 559.5,180.5C555.5,179.5 556.1,179.7 552.1,178.4C548.1,177.1 548.6,177.1 544.6,175.5C540.6,173.9 541.2,174.2 537.2,172.4C533.2,170.6 533.7,170.9 529.7,168.7C525.7,166.5 526.1,166.6 522.3,164.3C518.5,162.0 518.6,161.9 515.5,160.0C512.4,158.1 514.4,159.2 510.8,157.3C507.2,155.4 506.7,155.3 502.1,153.0C497.5,150.7 498.0,150.9 493.4,148.6C488.8,146.3 489.3,146.8 484.7,144.3C480.1,141.8 480.3,142.0 476.0,139.3C471.7,136.6 472.3,136.8 468.6,134.3C464.9,131.8 465.3,132.5 462.3,130.0C459.3,127.5 459.8,127.8 457.5,125.0C455.2,122.2 455.5,122.6 453.5,119.5C451.5,116.4 451.6,116.8 450.0,113.5C448.4,110.2 448.6,110.6 447.5,107.0C446.4,103.4 446.5,103.5 446.0,100.0C445.5,96.5 445.5,97.2 445.5,94.0C445.5,90.8 445.9,89.6 446.1,88.0" fill="none" stroke="#ff4200" stroke-width="1.5" stroke-linejoin="round" stroke-linecap="round"/>
<path d="M609.0,155.0C608.7,156.3 608.9,157.0 607.8,160.0C606.7,163.0 606.8,163.1 604.7,166.2C602.6,169.3 602.8,169.2 599.8,171.8C596.8,174.4 597.3,174.1 593.6,176.1C589.9,178.1 589.7,177.6 586.1,179.2C582.5,180.8 582.5,181.2 580.0,182.1C577.5,183.0 579.7,182.3 576.9,182.7C574.1,183.1 573.5,183.3 569.5,183.6C565.5,183.9 566.0,183.8 562.0,183.8C558.0,183.8 558.6,183.8 554.6,183.6C550.6,183.4 551.1,183.5 547.1,183.0C543.1,182.5 543.7,182.5 539.7,181.7C535.7,180.9 536.2,181.0 532.2,179.9C528.2,178.8 528.8,179.1 524.8,177.4C520.8,175.7 521.3,175.9 517.3,173.7C513.3,171.5 513.9,171.6 509.9,169.3C505.9,167.0 506.4,167.5 502.4,165.0C498.4,162.5 498.1,162.1 495.0,160.0C491.9,157.9 494.3,159.5 490.9,157.3C487.5,155.1 486.5,154.5 482.2,151.7C477.9,148.9 478.8,149.6 474.8,146.8C470.8,144.0 471.0,144.2 467.3,141.2C463.6,138.2 464.1,138.6 461.1,135.6C458.1,132.6 458.3,132.9 456.1,130.0C453.9,127.1 455.0,127.7 453.0,124.6C451.0,121.5 450.6,121.7 448.6,118.4C446.6,115.1 447.0,115.7 445.5,112.2C444.0,108.7 444.0,108.9 443.0,105.4C442.0,101.9 442.2,102.5 441.8,99.2C441.4,95.9 441.4,96.0 441.4,93.0C441.4,90.0 441.4,90.1 441.8,88.0C442.2,85.9 441.9,86.7 443.0,85.0C444.1,83.3 443.9,83.2 446.0,81.5C448.1,79.8 447.5,79.8 451.0,78.5C454.5,77.2 454.2,77.4 459.0,76.5C463.8,75.6 463.1,75.7 469.0,75.0C474.9,74.3 473.5,74.1 481.0,73.8C488.5,73.5 489.3,73.4 497.0,74.0C504.7,74.6 502.3,74.4 510.0,76.0C517.7,77.6 518.0,77.6 526.0,80.0C534.0,82.4 532.5,82.1 540.0,85.0C547.5,87.9 547.6,88.1 554.0,91.0C560.4,93.9 559.6,93.6 564.0,96.0C568.4,98.4 566.9,97.9 570.4,100.0C573.9,102.1 573.4,101.6 577.2,103.7C581.0,105.8 580.7,105.5 584.7,108.0C588.7,110.5 588.5,110.2 592.1,113.0C595.7,115.8 595.3,115.5 598.3,118.6C601.3,121.7 601.1,121.5 603.3,124.8C605.5,128.1 605.1,127.7 606.4,131.0C607.7,134.3 607.4,133.9 608.0,137.2C608.6,140.5 608.2,140.4 608.5,143.5C608.8,146.6 608.9,145.9 609.0,149.0C609.1,152.1 609.0,153.4 609.0,155.0" fill="none" stroke="#f01000" stroke-width="1.5" stroke-linejoin="round" stroke-linecap="round"/>
<path d="M648.4,149.0C648.2,150.6 648.3,151.7 647.6,155.0C646.9,158.3 647.2,157.9 645.7,161.2C644.2,164.5 644.3,164.4 642.0,167.4C639.7,170.4 640.0,169.9 637.0,172.4C634.0,174.9 634.5,174.6 630.8,176.7C627.1,178.8 627.6,178.6 623.3,180.4C619.0,182.2 619.3,182.0 614.7,183.3C610.1,184.6 610.6,184.5 606.0,185.4C601.4,186.3 601.9,186.2 597.3,186.7C592.7,187.2 593.2,187.1 588.6,187.3C584.0,187.5 584.4,187.5 579.9,187.5C575.4,187.5 576.0,187.3 571.9,187.3C567.8,187.3 568.5,187.6 564.5,187.6C560.5,187.6 561.0,187.5 557.0,187.3C553.0,187.1 553.6,187.1 549.6,186.7C545.6,186.3 546.1,186.4 542.1,185.7C538.1,185.0 538.7,185.2 534.7,184.2C530.7,183.2 531.2,183.4 527.2,182.1C523.2,180.8 523.8,180.8 519.8,179.2C515.8,177.6 516.3,177.9 512.3,176.1C508.3,174.3 508.9,174.5 504.9,172.4C500.9,170.3 501.4,170.6 497.4,168.1C493.4,165.6 494.4,166.0 490.0,163.1C485.6,160.2 485.4,160.3 481.0,157.3C476.6,154.3 477.2,154.7 473.5,151.7C469.8,148.7 470.6,149.1 467.3,146.1C464.0,143.1 464.1,143.6 461.1,140.6C458.1,137.6 458.6,137.8 456.1,135.0C453.6,132.2 454.0,132.8 451.8,130.0C449.6,127.2 449.8,127.6 448.0,124.5C446.2,121.4 446.5,121.7 445.2,118.5C443.9,115.3 444.0,115.7 443.0,112.5C442.0,109.3 442.2,109.8 441.6,106.6C441.0,103.4 441.1,103.8 440.6,100.4C440.1,97.0 440.1,97.0 439.8,94.0C439.5,91.0 439.4,91.4 439.6,89.0C439.8,86.6 439.7,87.1 440.6,85.0C441.5,82.9 441.0,83.3 443.0,81.0C445.0,78.7 444.8,78.3 448.0,76.5C451.2,74.7 450.5,75.2 455.0,74.4C459.5,73.6 459.7,73.9 465.0,73.4C470.3,72.9 469.7,73.0 475.0,72.6C480.3,72.2 479.7,72.2 485.0,71.8C490.3,71.4 489.7,71.4 495.0,71.0C500.3,70.6 497.8,70.6 505.0,70.4C512.2,70.2 514.3,70.2 522.0,70.4C529.7,70.6 527.6,70.5 534.0,71.0C540.4,71.5 539.6,71.3 546.0,72.2C552.4,73.1 551.6,72.9 558.0,74.4C564.4,75.9 564.1,75.9 570.0,77.8C575.9,79.7 574.7,79.3 580.0,81.5C585.3,83.7 584.7,83.2 590.0,86.0C595.3,88.8 594.5,88.4 600.0,92.0C605.5,95.6 606.3,96.4 610.8,99.5C615.3,102.6 613.4,101.1 617.0,103.7C620.6,106.3 620.9,106.5 624.4,109.3C627.9,112.1 626.9,111.2 630.0,114.3C633.1,117.4 632.9,117.1 636.0,121.0C639.1,124.9 638.8,124.3 641.5,129.0C644.2,133.7 644.2,133.2 646.0,138.5C647.8,143.8 647.8,146.2 648.4,149.0" fill="none" stroke="#e00000" stroke-width="1.5" stroke-linejoin="round" stroke-linecap="round"/>
<path d="M446.1,88.0C446.5,87.3 446.2,86.8 447.5,85.5C448.8,84.2 447.9,84.7 451.0,83.0C454.1,81.3 454.2,80.6 459.0,79.0C463.8,77.4 463.1,77.8 469.0,77.0C474.9,76.2 474.6,76.3 481.0,76.0C487.4,75.7 486.6,75.9 493.0,76.0C499.4,76.1 498.6,76.0 505.0,76.4C511.4,76.8 510.6,76.6 517.0,77.6C523.4,78.6 522.6,78.3 529.0,80.0C535.4,81.7 535.4,82.0 541.0,84.0C546.6,86.0 545.5,85.9 550.0,87.5C554.5,89.1 552.7,88.2 558.0,90.0C563.3,91.8 564.7,92.5 570.0,94.4C575.3,96.3 574.6,95.5 578.0,97.0C581.4,98.5 579.7,98.4 582.8,100.0C585.9,101.6 586.2,101.3 589.7,103.1C593.2,104.9 592.6,104.6 595.9,106.8C599.2,109.0 599.0,108.9 602.1,111.2C605.2,113.5 605.1,113.0 607.7,115.5C610.3,118.0 610.2,117.8 612.0,120.5C613.8,123.2 613.3,122.7 614.5,125.5C615.7,128.3 615.6,127.9 616.4,131.0C617.2,134.1 617.0,133.9 617.6,137.2C618.2,140.5 617.7,140.1 618.5,143.5C619.3,146.9 619.7,146.9 620.5,150.0C621.3,153.1 621.2,153.7 621.5,155.0" fill="none" stroke="#b00000" stroke-width="1.5" stroke-linejoin="round" stroke-linecap="round"/>
<path d="M441.8,132.7C442.1,131.4 441.9,130.2 443.0,127.7C444.1,125.2 443.9,125.7 446.1,123.4C448.3,121.1 448.1,121.5 451.1,119.0C454.1,116.5 453.6,116.7 457.3,114.1C461.0,111.5 460.8,111.6 464.8,109.1C468.8,106.6 468.2,107.0 472.2,104.8C476.2,102.6 475.7,102.8 479.7,101.0C483.7,99.2 483.1,99.4 487.1,97.9C491.1,96.4 490.6,96.5 494.6,95.2C498.6,93.9 498.0,94.1 502.0,93.0C506.0,91.9 504.7,92.2 509.5,91.1C514.3,90.0 513.7,89.8 520.0,89.0C526.3,88.2 526.3,88.3 533.0,88.0C539.7,87.7 538.9,87.7 545.0,88.0C551.1,88.3 549.9,87.8 556.0,89.0C562.1,90.2 562.1,90.4 568.0,92.4C573.9,94.4 573.4,94.4 578.0,96.4C582.6,98.4 581.5,98.4 585.3,100.0C589.1,101.6 588.3,100.7 592.1,102.5C595.9,104.3 595.9,104.3 599.6,106.8C603.3,109.3 602.5,109.0 605.8,111.8C609.1,114.6 608.7,114.4 612.0,117.4C615.3,120.4 614.9,119.9 618.2,123.0C621.5,126.1 621.3,125.7 624.4,129.2C627.5,132.7 627.9,132.3 630.0,136.0C632.1,139.7 631.6,139.3 632.4,143.0C633.2,146.7 632.9,146.8 633.0,150.0C633.1,153.2 633.3,152.5 632.7,155.0C632.1,157.5 632.3,156.8 630.8,159.3C629.3,161.8 629.7,161.6 627.1,164.3C624.5,167.0 624.6,166.7 620.9,169.3C617.2,171.9 617.4,171.7 613.4,174.2C609.4,176.7 610.0,176.4 606.0,178.6C602.0,180.8 602.5,180.5 598.5,182.3C594.5,184.1 595.1,184.0 591.1,185.4C587.1,186.8 587.4,186.6 583.6,187.5C579.8,188.4 580.1,188.2 577.0,188.7C573.9,189.2 575.2,188.9 571.9,189.5C568.6,190.1 568.5,190.2 564.5,191.0C560.5,191.8 561.0,191.9 557.0,192.5C553.0,193.1 553.6,193.1 549.6,193.3C545.6,193.5 546.1,193.4 542.1,193.1C538.1,192.8 538.7,192.9 534.7,192.3C530.7,191.7 531.2,191.7 527.2,190.8C523.2,189.9 523.8,190.0 519.8,188.8C515.8,187.6 516.3,187.7 512.3,186.3C508.3,184.9 508.9,185.1 504.9,183.6C500.9,182.1 501.4,182.2 497.4,180.5C493.4,178.8 493.5,178.9 490.0,177.4C486.5,175.9 486.8,175.9 484.1,174.7C481.4,173.5 482.8,174.1 479.7,172.8C476.6,171.5 476.3,171.7 472.3,169.7C468.3,167.7 468.8,168.0 464.8,165.4C460.8,162.8 461.0,162.8 457.4,159.8C453.8,156.8 454.2,157.3 451.2,154.2C448.2,151.1 448.4,151.5 446.2,148.0C444.0,144.5 444.2,144.7 443.1,141.2C442.0,137.7 442.2,137.3 441.9,135.0C441.6,132.7 441.8,133.3 441.8,132.7" fill="none" stroke="#8e0000" stroke-width="1.6" stroke-linejoin="round" stroke-linecap="round"/>
<path d="M621.5,155.0C621.7,156.7 621.9,157.9 622.1,161.2C622.3,164.5 622.3,164.1 622.4,167.4C622.5,170.7 622.5,170.3 622.4,173.6C622.3,176.9 622.5,176.7 621.9,179.8C621.3,182.9 621.6,182.7 620.2,185.4C618.8,188.1 619.0,187.8 616.5,189.8C614.0,191.8 614.0,191.6 610.9,192.9C607.8,194.2 608.3,193.9 604.7,194.7C601.1,195.5 601.6,195.5 597.3,196.0C593.0,196.5 593.2,196.4 588.6,196.6C584.0,196.8 584.4,196.6 579.9,196.7C575.4,196.8 576.0,196.9 571.9,197.0C567.8,197.1 568.5,197.1 564.5,197.0C560.5,196.9 561.0,196.9 557.0,196.6C553.0,196.3 553.6,196.4 549.6,195.8C545.6,195.2 546.1,195.2 542.1,194.5C538.1,193.8 538.7,194.0 534.7,193.3C530.7,192.6 531.2,192.6 527.2,192.0C523.2,191.4 523.8,191.6 519.8,191.0C515.8,190.4 516.3,190.6 512.3,189.8C508.3,189.0 508.9,189.0 504.9,187.9C500.9,186.8 501.4,187.0 497.4,185.5C493.4,184.0 493.8,184.0 490.0,182.3C486.2,180.6 487.7,181.0 483.0,179.0C478.3,177.0 476.1,176.2 472.3,174.7C468.5,173.2 471.6,174.5 468.6,173.2C465.6,171.9 465.1,171.8 461.1,169.7C457.1,167.6 457.7,168.0 453.7,165.4C449.7,162.8 449.9,162.6 446.2,159.8C442.5,157.0 443.5,157.7 440.0,154.8C436.5,151.9 436.5,152.1 433.0,149.0C429.5,145.9 430.1,146.5 427.0,143.0C423.9,139.5 424.0,139.7 421.5,136.0C419.0,132.3 419.2,132.7 417.5,129.0C415.8,125.3 415.8,126.0 415.2,122.0C414.6,118.0 414.9,117.2 415.4,114.0C415.9,110.8 415.5,112.4 417.0,110.0C418.5,107.6 418.6,107.7 421.0,105.0C423.4,102.3 423.6,102.3 426.0,100.0C428.4,97.7 427.0,98.7 430.0,96.5C433.0,94.3 433.1,94.1 437.4,91.7C441.7,89.3 441.4,89.5 446.1,87.6C450.8,85.7 451.0,85.8 455.0,84.6C459.0,83.4 456.2,84.5 461.0,83.0C465.8,81.5 466.6,80.9 473.0,79.0C479.4,77.1 478.6,77.4 485.0,76.0C491.4,74.6 490.3,74.7 497.0,73.6C503.7,72.5 503.3,73.0 510.0,72.0C516.7,71.0 515.6,70.8 522.0,70.0C528.4,69.2 527.6,69.4 534.0,69.0C540.4,68.6 539.6,68.6 546.0,68.6C552.4,68.6 551.6,68.6 558.0,69.0C564.4,69.4 564.1,69.2 570.0,70.0C575.9,70.8 574.7,70.8 580.0,72.0C585.3,73.2 584.7,72.9 590.0,74.4C595.3,75.9 595.2,75.9 600.0,77.6C604.8,79.3 605.9,79.8 608.0,80.6" fill="none" stroke="#800000" stroke-width="1.6" stroke-linejoin="round" stroke-linecap="round"/>
<rect x="204" y="8" width="97" height="19" fill="#fff"/>
<rect x="588" y="40" width="92" height="19" fill="#fff"/>
<line x1="3.7" y1="241.4" x2="203.1" y2="267.7" stroke="#666" stroke-width="0.85" />
<line x1="203.1" y1="267.7" x2="308.9" y2="223.5" stroke="#666" stroke-width="0.85" />
<line x1="309.9" y1="13.6" x2="308.9" y2="223.5" stroke="#666" stroke-width="0.85" />
<line x1="37.39" y1="247.56" x2="42.01" y2="245.64" stroke="#111" stroke-width="1.6" />
<line x1="106.09" y1="256.46" x2="110.71" y2="254.54" stroke="#111" stroke-width="1.6" />
<line x1="177.29" y1="265.36" x2="181.91" y2="263.44" stroke="#111" stroke-width="1.6" />
<line x1="220.73" y1="259.11" x2="226.67" y2="259.89" stroke="#111" stroke-width="1.6" />
<line x1="255.03" y1="244.21" x2="260.97" y2="244.99" stroke="#111" stroke-width="1.6" />
<line x1="287.83" y1="230.61" x2="293.77" y2="231.39" stroke="#111" stroke-width="1.6" />
<line x1="306.5" y1="42.9" x2="312.5" y2="42.9" stroke="#111" stroke-width="1.6" />
<line x1="306.5" y1="94.1" x2="312.5" y2="94.1" stroke="#111" stroke-width="1.6" />
<line x1="306.5" y1="144.5" x2="312.5" y2="144.5" stroke="#111" stroke-width="1.6" />
<line x1="306.5" y1="194.5" x2="312.5" y2="194.5" stroke="#111" stroke-width="1.6" />
<line x1="379.4" y1="241.4" x2="577.5" y2="267.7" stroke="#666" stroke-width="0.85" />
<line x1="577.5" y1="267.7" x2="684.3" y2="221.5" stroke="#666" stroke-width="0.85" />
<line x1="685.3" y1="12.4" x2="684.0" y2="221.5" stroke="#666" stroke-width="0.85" />
<line x1="410.39" y1="247.56" x2="415.01" y2="245.64" stroke="#111" stroke-width="1.6" />
<line x1="473.19" y1="255.96" x2="477.81" y2="254.04" stroke="#111" stroke-width="1.6" />
<line x1="537.29" y1="264.16" x2="541.91" y2="262.24" stroke="#111" stroke-width="1.6" />
<line x1="596.13" y1="259.11" x2="602.07" y2="259.89" stroke="#111" stroke-width="1.6" />
<line x1="630.53" y1="244.41" x2="636.47" y2="245.19" stroke="#111" stroke-width="1.6" />
<line x1="664.03" y1="230.81" x2="669.97" y2="231.59" stroke="#111" stroke-width="1.6" />
<line x1="681.9" y1="51.3" x2="687.9" y2="51.3" stroke="#111" stroke-width="1.6" />
<line x1="681.9" y1="85.1" x2="687.9" y2="85.1" stroke="#111" stroke-width="1.6" />
<line x1="681.9" y1="119.0" x2="687.9" y2="119.0" stroke="#111" stroke-width="1.6" />
<line x1="681.9" y1="152.8" x2="687.9" y2="152.8" stroke="#111" stroke-width="1.6" />
<line x1="681.9" y1="186.6" x2="687.9" y2="186.6" stroke="#111" stroke-width="1.6" />
<line x1="681.9" y1="220.2" x2="687.9" y2="220.2" stroke="#111" stroke-width="1.6" />
<text x="206.4" y="21.2" font-size="15" textLength="92" lengthAdjust="spacingAndGlyphs"><tspan font-style="italic">s</tspan>27MR<tspan font-style="italic">f</tspan><tspan font-size="11" dy="3">heat</tspan><tspan dy="-3">0.95</tspan></text>
<text x="590.5" y="52.6" font-size="15" textLength="86.5" lengthAdjust="spacingAndGlyphs"><tspan font-style="italic">s</tspan>27MR<tspan font-style="italic">f</tspan><tspan font-size="11" dy="3">heat</tspan><tspan dy="-3">0.8</tspan></text>
<text x="315" y="51.599999999999994" font-size="14" text-anchor="start" textLength="22.75" lengthAdjust="spacingAndGlyphs" >0.02</text>
<text x="315" y="102.8" font-size="14" text-anchor="start" textLength="22.75" lengthAdjust="spacingAndGlyphs" >0.01</text>
<text x="311.5" y="203.2" font-size="14" text-anchor="start" textLength="27.08" lengthAdjust="spacingAndGlyphs" >-0.01</text>
<text x="322.3" y="153.2" font-size="14" text-anchor="start" textLength="6.5" lengthAdjust="spacingAndGlyphs" >0</text>
<text x="343.6" y="120.4" font-size="16" text-anchor="start" font-style="italic" >z</text>
<text x="81.8" y="291.4" font-size="16" text-anchor="start" font-style="italic" >x</text>
<text x="22.8" y="270.6" font-size="14" text-anchor="start" textLength="22.75" lengthAdjust="spacingAndGlyphs" >0.04</text>
<text x="99.3" y="278.8" font-size="14" text-anchor="start" textLength="6.5" lengthAdjust="spacingAndGlyphs" >0</text>
<text x="160.4" y="289.6" font-size="14" text-anchor="start" textLength="27.08" lengthAdjust="spacingAndGlyphs" >-0.04</text>
<text x="223.3" y="282.5" font-size="14" text-anchor="start" textLength="22.75" lengthAdjust="spacingAndGlyphs" >0.04</text>
<text x="265.3" y="267.6" font-size="14" text-anchor="start" textLength="6.5" lengthAdjust="spacingAndGlyphs" >0</text>
<text x="288.3" y="253.3" font-size="14" text-anchor="start" textLength="27.08" lengthAdjust="spacingAndGlyphs" >-0.04</text>
<text x="279.7" y="278" font-size="16" text-anchor="start" font-style="italic" >y</text>
<text x="690.5" y="60.199999999999996" font-size="14" text-anchor="start" textLength="22.75" lengthAdjust="spacingAndGlyphs" >0.04</text>
<text x="690.5" y="94.0" font-size="14" text-anchor="start" textLength="22.75" lengthAdjust="spacingAndGlyphs" >0.02</text>
<text x="687" y="161.70000000000002" font-size="14" text-anchor="start" textLength="27.08" lengthAdjust="spacingAndGlyphs" >-0.02</text>
<text x="687" y="195.5" font-size="14" text-anchor="start" textLength="27.08" lengthAdjust="spacingAndGlyphs" >-0.04</text>
<text x="687" y="229.1" font-size="14" text-anchor="start" textLength="27.08" lengthAdjust="spacingAndGlyphs" >-0.06</text>
<text x="698" y="127.8" font-size="14" text-anchor="start" textLength="6.5" lengthAdjust="spacingAndGlyphs" >0</text>
<text x="719" y="120.2" font-size="16" text-anchor="start" font-style="italic" >z</text>
<text x="456.8" y="291.4" font-size="16" text-anchor="start" font-style="italic" >x</text>
<text x="395.6" y="270.1" font-size="14" text-anchor="start" textLength="22.75" lengthAdjust="spacingAndGlyphs" >0.04</text>
<text x="466.3" y="278.8" font-size="14" text-anchor="start" textLength="6.5" lengthAdjust="spacingAndGlyphs" >0</text>
<text x="520.5" y="287.2" font-size="14" text-anchor="start" textLength="27.08" lengthAdjust="spacingAndGlyphs" >-0.04</text>
<text x="598.6" y="282.5" font-size="14" text-anchor="start" textLength="22.75" lengthAdjust="spacingAndGlyphs" >0.04</text>
<text x="640.5" y="267.6" font-size="14" text-anchor="start" textLength="6.5" lengthAdjust="spacingAndGlyphs" >0</text>
<text x="663.2" y="253.5" font-size="14" text-anchor="start" textLength="27.08" lengthAdjust="spacingAndGlyphs" >-0.04</text>
<text x="655" y="278.3" font-size="16" text-anchor="start" font-style="italic" >y</text>
<rect x="5.7" y="310.4" width="332.2" height="14.200000000000045" fill="url(#jet)" stroke="#101018" stroke-width="1"/>
<line x1="20.1" y1="318.8" x2="20.1" y2="324.1" stroke="#1a1a1a" stroke-width="0.8" stroke-opacity="0.8"/>
<text x="20.1" y="338.4" font-size="14" text-anchor="middle" textLength="13.0" lengthAdjust="spacingAndGlyphs" >30</text>
<line x1="62.300000000000004" y1="318.8" x2="62.300000000000004" y2="324.1" stroke="#1a1a1a" stroke-width="0.8" stroke-opacity="0.8"/>
<text x="62.300000000000004" y="338.4" font-size="14" text-anchor="middle" textLength="13.0" lengthAdjust="spacingAndGlyphs" >60</text>
<line x1="104.5" y1="318.8" x2="104.5" y2="324.1" stroke="#1a1a1a" stroke-width="0.8" stroke-opacity="0.8"/>
<text x="104.5" y="338.4" font-size="14" text-anchor="middle" textLength="13.0" lengthAdjust="spacingAndGlyphs" >90</text>
<line x1="146.70000000000002" y1="318.8" x2="146.70000000000002" y2="324.1" stroke="#1a1a1a" stroke-width="0.8" stroke-opacity="0.8"/>
<text x="146.70000000000002" y="338.4" font-size="14" text-anchor="middle" textLength="19.5" lengthAdjust="spacingAndGlyphs" >120</text>
<line x1="188.9" y1="318.8" x2="188.9" y2="324.1" stroke="#1a1a1a" stroke-width="0.8" stroke-opacity="0.8"/>
<text x="188.9" y="338.4" font-size="14" text-anchor="middle" textLength="19.5" lengthAdjust="spacingAndGlyphs" >150</text>
<line x1="231.1" y1="318.8" x2="231.1" y2="324.1" stroke="#1a1a1a" stroke-width="0.8" stroke-opacity="0.8"/>
<text x="231.1" y="338.4" font-size="14" text-anchor="middle" textLength="19.5" lengthAdjust="spacingAndGlyphs" >180</text>
<line x1="273.3" y1="318.8" x2="273.3" y2="324.1" stroke="#1a1a1a" stroke-width="0.8" stroke-opacity="0.8"/>
<text x="273.3" y="338.4" font-size="14" text-anchor="middle" textLength="19.5" lengthAdjust="spacingAndGlyphs" >210</text>
<line x1="315.50000000000006" y1="318.8" x2="315.50000000000006" y2="324.1" stroke="#1a1a1a" stroke-width="0.8" stroke-opacity="0.8"/>
<text x="315.50000000000006" y="338.4" font-size="14" text-anchor="middle" textLength="19.5" lengthAdjust="spacingAndGlyphs" >240</text>
<rect x="381.0" y="310.4" width="332.0" height="14.200000000000045" fill="url(#jet)" stroke="#101018" stroke-width="1"/>
<line x1="395.1" y1="318.8" x2="395.1" y2="324.1" stroke="#1a1a1a" stroke-width="0.8" stroke-opacity="0.8"/>
<text x="395.1" y="338.4" font-size="14" text-anchor="middle" textLength="13.0" lengthAdjust="spacingAndGlyphs" >30</text>
<line x1="437.3" y1="318.8" x2="437.3" y2="324.1" stroke="#1a1a1a" stroke-width="0.8" stroke-opacity="0.8"/>
<text x="437.3" y="338.4" font-size="14" text-anchor="middle" textLength="13.0" lengthAdjust="spacingAndGlyphs" >60</text>
<line x1="479.5" y1="318.8" x2="479.5" y2="324.1" stroke="#1a1a1a" stroke-width="0.8" stroke-opacity="0.8"/>
<text x="479.5" y="338.4" font-size="14" text-anchor="middle" textLength="13.0" lengthAdjust="spacingAndGlyphs" >90</text>
<line x1="521.7" y1="318.8" x2="521.7" y2="324.1" stroke="#1a1a1a" stroke-width="0.8" stroke-opacity="0.8"/>
<text x="521.7" y="338.4" font-size="14" text-anchor="middle" textLength="19.5" lengthAdjust="spacingAndGlyphs" >120</text>
<line x1="563.9000000000001" y1="318.8" x2="563.9000000000001" y2="324.1" stroke="#1a1a1a" stroke-width="0.8" stroke-opacity="0.8"/>
<text x="563.9000000000001" y="338.4" font-size="14" text-anchor="middle" textLength="19.5" lengthAdjust="spacingAndGlyphs" >150</text>
<line x1="606.1" y1="318.8" x2="606.1" y2="324.1" stroke="#1a1a1a" stroke-width="0.8" stroke-opacity="0.8"/>
<text x="606.1" y="338.4" font-size="14" text-anchor="middle" textLength="19.5" lengthAdjust="spacingAndGlyphs" >180</text>
<line x1="648.3000000000001" y1="318.8" x2="648.3000000000001" y2="324.1" stroke="#1a1a1a" stroke-width="0.8" stroke-opacity="0.8"/>
<text x="648.3000000000001" y="338.4" font-size="14" text-anchor="middle" textLength="19.5" lengthAdjust="spacingAndGlyphs" >210</text>
<line x1="690.5" y1="318.8" x2="690.5" y2="324.1" stroke="#1a1a1a" stroke-width="0.8" stroke-opacity="0.8"/>
<text x="690.5" y="338.4" font-size="14" text-anchor="middle" textLength="19.5" lengthAdjust="spacingAndGlyphs" >240</text>
<text x="126.5" y="359.4" font-size="16" textLength="92" lengthAdjust="spacingAndGlyphs"><tspan font-style="italic">t</tspan> − <tspan font-style="italic">t</tspan><tspan font-size="11.5" dy="4">bounce</tspan><tspan dy="-4"> [ms]</tspan></text>
<text x="501.7" y="359.4" font-size="16" textLength="92" lengthAdjust="spacingAndGlyphs"><tspan font-style="italic">t</tspan> − <tspan font-style="italic">t</tspan><tspan font-size="11.5" dy="4">bounce</tspan><tspan dy="-4"> [ms]</tspan></text>
</svg>
</body></html>
